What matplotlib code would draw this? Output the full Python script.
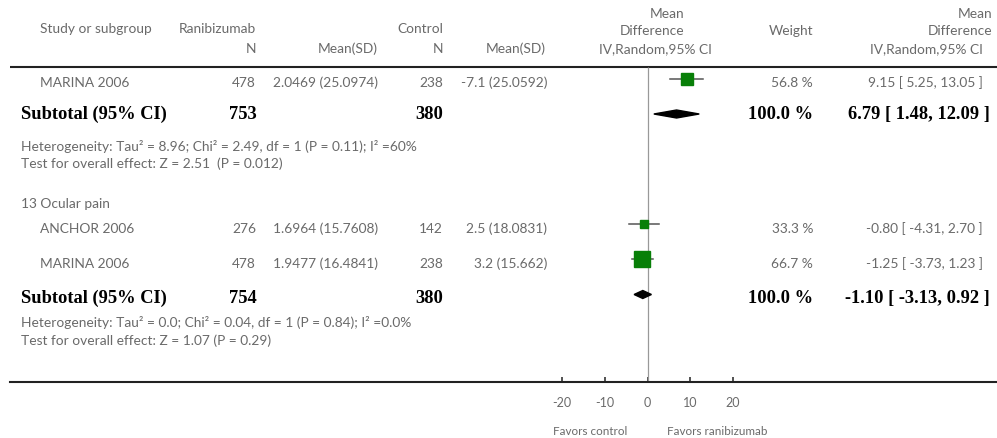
import matplotlib
matplotlib.use('Agg')
import matplotlib.pyplot as plt
from matplotlib.patches import Polygon

# ---------------- data ----------------
study_names = ['MARINA 2006', 'ANCHOR 2006', 'MARINA 2006']
ran_n = [478, 276, 478]
ran_meansd = ['2.0469 (25.0974)', '1.6964 (15.7608)', '1.9477 (16.4841)']
ctl_n = [238, 142, 238]
ctl_meansd = ['-7.1 (25.0592)', '2.5 (18.0831)', '3.2 (15.662)']
md = [9.15, -0.80, -1.25]
md_lo = [5.25, -4.31, -3.73]
md_hi = [13.05, 2.70, 1.23]
weight = [56.8, 33.3, 66.7]

sub_ran_n = [753, 754]
sub_ctl_n = [380, 380]
sub_md = [6.79, -1.10]
sub_lo = [1.48, -3.13]
sub_hi = [12.09, 0.92]
sub_weight = [100.0, 100.0]
heterogeneity = ['Heterogeneity: Tau\u00b2 = 8.96; Chi\u00b2 = 2.49, df = 1 (P = 0.11); I\u00b2 =60%',
                 'Heterogeneity: Tau\u00b2 = 0.0; Chi\u00b2 = 0.04, df = 1 (P = 0.84); I\u00b2 =0.0%']
overall = ['Test for overall effect: Z = 2.51  (P = 0.012)',
           'Test for overall effect: Z = 1.07 (P = 0.29)']
subgroup_label = '13 Ocular pain'
xticks = [-20, -10, 0, 10, 20]
favors = ['Favors control', 'Favors ranibizumab']

# ---------------- layout / style ----------------
W, H = 997, 438
X0 = 647.5      # pixel of zero
PXU = 4.28      # pixels per unit
study_base = [87, 233, 268]
study_mark = [79, 224, 259]
sq_size = [9.3, 5.8, 11.0]
sub_base = [119, 303]
sub_mark = [114, 294.5]
het_base = [151, 327]
ovr_base = [168, 345]
grp_base = 208

GRAY = '#6a6a6a'
REG = dict(family=['Lato', 'DejaVu Sans'], fontsize=9.9, color=GRAY)
SMALL = dict(family=['Lato', 'DejaVu Sans'], fontsize=8.4, color=GRAY)
BOLD = dict(family=['Liberation Serif', 'DejaVu Serif'], fontsize=13.3, fontweight='bold', color='black')
GREEN = '#087f08'

fig = plt.figure(figsize=(W / 100, H / 100), dpi=100)
tax = fig.add_axes([0, 0, 1, 1])
tax.set_xlim(0, W)
tax.set_ylim(H, 0)
tax.axis('off')

fax = fig.add_axes([10 / W, 0, (W - 10) / W, 1])
fax.patch.set_visible(False)
fax.set_xlim((10 - X0) / PXU, (W - X0) / PXU)
fax.set_ylim(H, 0)
for s in ['top', 'left', 'right']:
    fax.spines[s].set_visible(False)
fax.spines['bottom'].set_position(('data', 382))
fax.spines['bottom'].set_linewidth(1.5)
fax.spines['bottom'].set_color('#222222')
fax.set_yticks([])
fax.set_xticks(xticks)
fax.set_xticklabels([str(t) for t in xticks])
fax.tick_params(axis='x', direction='in', length=3.6, width=1.1, color='#222222',
                pad=10.5, labelsize=9.0, labelcolor=GRAY)
for lab in fax.get_xticklabels():
    lab.set_family(['Lato', 'DejaVu Sans'])

# header line
fax.axhline(67, color='#222222', lw=1.5)
# zero line
fax.vlines(0, 67, 382, color='#999999', lw=0.9)

def t(x, y, s, ha='left', style=REG):
    tax.text(x, y, s, ha=ha, va='baseline', **style)

# headers
t(40, 33, 'Study or subgroup')
t(256, 33, 'Ranibizumab', 'right')
t(443, 33, 'Control', 'right')
t(256, 53, 'N', 'right')
t(378, 53, 'Mean(SD)', 'right')
t(443, 53, 'N', 'right')
t(546, 53, 'Mean(SD)', 'right')
t(684, 18, 'Mean', 'right')
t(684, 35, 'Difference', 'right')
t(655, 53, 'IV,Random,95% CI', 'center')
t(813, 35, 'Weight', 'right')
t(992, 18, 'Mean', 'right')
t(992, 35, 'Difference', 'right')
t(983, 53, 'IV,Random,95% CI', 'right')

# study rows
for i in range(len(study_names)):
    yb = study_base[i]
    t(40, yb, study_names[i])
    t(256, yb, str(ran_n[i]), 'right')
    t(378, yb, ran_meansd[i], 'right')
    t(443, yb, str(ctl_n[i]), 'right')
    t(547, yb, ctl_meansd[i], 'right')
    t(813, yb, f'{weight[i]:.1f} %', 'right')
    t(983, yb, f'{md[i]:.2f} [ {md_lo[i]:.2f}, {md_hi[i]:.2f} ]', 'right')
    ym = study_mark[i]
    fax.plot([md_lo[i], md_hi[i]], [ym, ym], color='#555555', lw=1.1, zorder=2)
    fax.plot([md[i]], [ym], marker='s', ms=sq_size[i], color=GREEN, mec=GREEN, zorder=3)

# subtotals
for j in range(2):
    yb = sub_base[j]
    t(21, yb, 'Subtotal (95% CI)', style=BOLD)
    t(257, yb, str(sub_ran_n[j]), 'right', BOLD)
    t(443, yb, str(sub_ctl_n[j]), 'right', BOLD)
    t(813, yb, f'{sub_weight[j]:.1f} %', 'right', BOLD)
    t(990, yb, f'{sub_md[j]:.2f} [ {sub_lo[j]:.2f}, {sub_hi[j]:.2f} ]', 'right', BOLD)
    t(21, het_base[j], heterogeneity[j])
    t(21, ovr_base[j], overall[j])
    ym = sub_mark[j]
    hh = 4.0
    poly = Polygon([(sub_lo[j], ym), (sub_md[j], ym - hh), (sub_hi[j], ym), (sub_md[j], ym + hh)],
                   closed=True, color='black', zorder=3)
    fax.add_patch(poly)

t(21, grp_base, subgroup_label)

# favors labels
t(590, 435, favors[0], 'center', SMALL)
t(717, 435, favors[1], 'center', SMALL)

fig.savefig('out.png', dpi=100)
